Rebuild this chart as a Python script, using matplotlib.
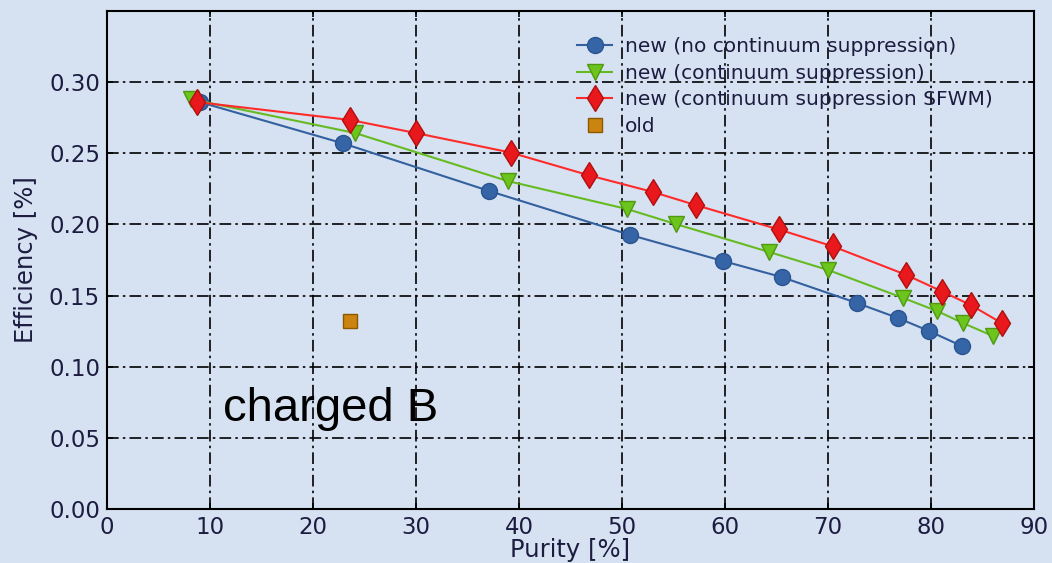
import matplotlib
matplotlib.use("Agg")
import matplotlib.pyplot as plt

# Purity [%] / efficiency [%] for each selection variant
purity_nocs = [9.0, 22.9, 37.1, 50.8, 59.8, 65.5, 72.8, 76.8, 79.8, 83.0]
eff_nocs = [0.286, 0.257, 0.2235, 0.1926, 0.1743, 0.1630, 0.1448, 0.1342, 0.1251, 0.1145]

purity_cs = [8.2, 24.1, 38.9, 50.5, 55.2, 64.3, 70.0, 77.3, 80.6, 83.1, 86.0]
eff_cs = [0.288, 0.2642, 0.2305, 0.2108, 0.2003, 0.1806, 0.1680, 0.1483, 0.1391, 0.1307, 0.1216]

purity_sfwm = [8.7, 23.6, 30.0, 39.2, 46.8, 53.0, 57.2, 65.2, 70.5, 77.6, 81.1, 83.9, 86.9]
eff_sfwm = [0.286, 0.2734, 0.2642, 0.2505, 0.2345, 0.2228, 0.2135, 0.1965, 0.1845, 0.1645, 0.1528, 0.1432, 0.1305]

purity_old = [23.6]
eff_old = [0.132]

xticks = [0, 10, 20, 30, 40, 50, 60, 70, 80, 90]
yticks = [0.00, 0.05, 0.10, 0.15, 0.20, 0.25, 0.30]

bg = "#d6e2f1"
tick_col = "#1c1c40"

fig = plt.figure(figsize=(10.52, 5.63), dpi=100, facecolor=bg)
ax = fig.add_axes([0.1017, 0.0959, 0.8812, 0.8846], facecolor=bg)

ax.plot(purity_nocs, eff_nocs, "-o", color="#33609f", lw=1.5,
        ms=11.5, mfc="#3565a6", mec="#2a5590", label="new (no continuum suppression)", zorder=3)
ax.plot(purity_cs, eff_cs, "-v", color="#66bb22", lw=1.5,
        ms=11, mfc="#6cc41c", mec="#4f9a12", label="new (continuum suppression)", zorder=3)
ax.plot(purity_sfwm, eff_sfwm, "-d", color="#ff2a2a", lw=1.5,
        ms=13.5, mfc="#e8181c", mec="#b01010", label="new (continuum suppression SFWM)", zorder=4)
ax.plot(purity_old, eff_old, "s", color="#cc8410", ms=9.5,
        mec="#8a5800", label="old", zorder=3)

ax.set_xlim(0, 90)
ax.set_ylim(0, 0.35)
ax.set_xticks(xticks)
ax.set_yticks(yticks)
ax.set_xticklabels([str(v) for v in xticks])
ax.set_yticklabels([f"{v:.2f}" for v in yticks])
ax.tick_params(direction="in", length=4, width=1.2, labelsize=16.5,
               labelcolor=tick_col, top=True, right=True)
ax.tick_params(axis="x", pad=5)
ax.tick_params(axis="y", pad=5)

ax.grid(True, color="black", lw=1.2, linestyle=(0, (7, 2.5, 1.5, 2.5)))
ax.set_axisbelow(True)
for s in ax.spines.values():
    s.set_linewidth(1.5)
    s.set_color("black")

ax.set_xlabel("Purity [%]", fontsize=17.5, color=tick_col, labelpad=-1)
ax.set_ylabel("Efficiency [%]", fontsize=17.5, color=tick_col, labelpad=8)

ax.text(11.3, 0.07, "charged B", fontsize=34, family="Liberation Sans",
        color="black", va="center", ha="left")

leg = ax.legend(loc="upper left", bbox_to_anchor=(0.507, 0.947), frameon=False,
                fontsize=14.5, handlelength=1.75, handletextpad=0.65,
                labelspacing=0.37, borderpad=0, borderaxespad=0)
for t in leg.get_texts():
    t.set_color(tick_col)

fig.savefig("out.png", dpi=100, facecolor=bg)
